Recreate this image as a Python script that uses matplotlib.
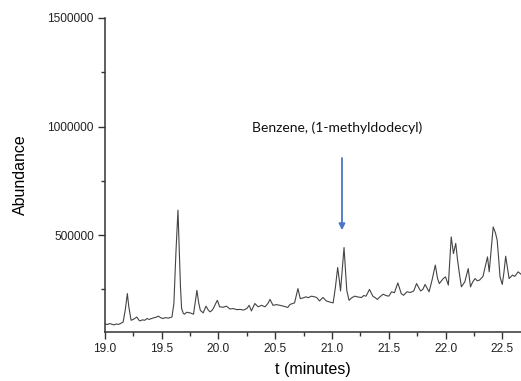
import matplotlib
matplotlib.use("Agg")
import matplotlib.pyplot as plt
from matplotlib.ticker import MultipleLocator

# GC-MS total ion chromatogram, retention time window 19.0 - 22.7 min
time_min = [
    19.00, 19.02, 19.04, 19.06, 19.08, 19.10, 19.12, 19.14, 19.16, 19.18,
    19.197, 19.21, 19.23, 19.25, 19.28, 19.30, 19.31, 19.33, 19.35, 19.37,
    19.39, 19.42, 19.45, 19.47, 19.49, 19.51, 19.53, 19.56, 19.59, 19.607,
    19.625, 19.643, 19.655, 19.665, 19.675, 19.69, 19.70, 19.72, 19.75, 19.78,
    19.795, 19.81, 19.825, 19.84, 19.865, 19.89, 19.91, 19.925, 19.94, 19.954,
    19.975, 19.99, 20.01, 20.04, 20.07, 20.10, 20.13, 20.16, 20.19, 20.22,
    20.25, 20.27, 20.29, 20.32, 20.35, 20.38, 20.41, 20.435, 20.454, 20.48,
    20.51, 20.54, 20.58, 20.61, 20.63, 20.67, 20.70, 20.72, 20.74, 20.77,
    20.79, 20.82, 20.845, 20.865, 20.89, 20.92, 20.95, 20.98, 21.01, 21.03,
    21.05, 21.065, 21.075, 21.09, 21.106, 21.12, 21.13, 21.15, 21.175, 21.20,
    21.23, 21.26, 21.28, 21.30, 21.33, 21.36, 21.38, 21.40, 21.42, 21.45,
    21.475, 21.50, 21.525, 21.55, 21.58, 21.61, 21.63, 21.66, 21.69, 21.72,
    21.745, 21.78, 21.80, 21.82, 21.855, 21.88, 21.91, 21.93, 21.945, 21.965,
    21.98, 22.00, 22.025, 22.04, 22.05, 22.07, 22.09, 22.105, 22.12, 22.14,
    22.17, 22.20, 22.22, 22.24, 22.26, 22.28, 22.30, 22.33, 22.37, 22.385,
    22.40, 22.42, 22.44, 22.455, 22.47, 22.48, 22.50, 22.515, 22.53, 22.545,
    22.56, 22.59, 22.61, 22.64, 22.665,
]
abundance = [
    92000, 88000, 93000, 90000, 87000, 91000, 89000, 94000, 100000, 160000,
    231000, 170000, 108000, 112000, 123000, 108000, 105000, 110000, 108000, 116000,
    112000, 118000, 122000, 127000, 120000, 116000, 120000, 118000, 123000, 185000,
    420000, 615000, 430000, 262000, 162000, 140000, 136000, 145000, 142000, 136000,
    190000, 246000, 190000, 154000, 142000, 173000, 155000, 147000, 152000, 162000,
    185000, 200000, 170000, 168000, 173000, 160000, 162000, 157000, 158000, 155000,
    162000, 177000, 151000, 185000, 170000, 177000, 170000, 185000, 204000, 177000,
    180000, 177000, 172000, 167000, 181000, 188000, 254000, 208000, 210000, 216000,
    212000, 219000, 216000, 213000, 197000, 213000, 197000, 192000, 188000, 260000,
    351000, 290000, 243000, 340000, 443000, 330000, 246000, 200000, 212000, 219000,
    215000, 213000, 222000, 219000, 250000, 219000, 212000, 204000, 215000, 228000,
    222000, 219000, 239000, 235000, 280000, 231000, 223000, 239000, 236000, 243000,
    277000, 243000, 250000, 273000, 239000, 290000, 362000, 300000, 277000, 290000,
    300000, 308000, 270000, 400000, 492000, 415000, 462000, 390000, 331000, 262000,
    285000, 346000, 262000, 285000, 300000, 290000, 293000, 310000, 400000, 331000,
    420000, 538000, 510000, 477000, 380000, 308000, 273000, 330000, 403000, 350000,
    300000, 316000, 310000, 331000, 320000,
]

# labelled compound
peak_label = "Benzene, (1-methyldodecyl)"
peak_time = 21.088

fig = plt.figure(figsize=(5.21, 3.81), dpi=100)
ax = fig.add_axes([0.2015, 0.1286, 0.7985, 0.8242])

ax.plot(time_min, abundance, color="#444444", linewidth=0.8)

ax.set_xlim(19.0, 22.665)
ax.set_ylim(54000, 1500000)

ax.xaxis.set_major_locator(MultipleLocator(0.5))
ax.xaxis.set_minor_locator(MultipleLocator(0.25))
ax.yaxis.set_major_locator(MultipleLocator(500000))
ax.yaxis.set_minor_locator(MultipleLocator(250000))
ax.xaxis.set_major_formatter(plt.FuncFormatter(lambda v, p: f"{v:.1f}"))
ax.yaxis.set_major_formatter(plt.FuncFormatter(lambda v, p: f"{v:.0f}"))

for side in ("top", "right"):
    ax.spines[side].set_visible(False)
for side in ("left", "bottom"):
    ax.spines[side].set_color("#333333")
    ax.spines[side].set_linewidth(1.1)

ax.tick_params(which="major", direction="out", length=5, width=1.0, color="#333333",
               labelsize=8.6, labelcolor="#222222", pad=3)
ax.tick_params(which="minor", direction="out", length=3, width=1.0, color="#333333")
for lbl in ax.get_xticklabels() + ax.get_yticklabels():
    lbl.set_family("Liberation Sans")

ax.set_xlabel("t (minutes)", fontsize=11.5, family="Liberation Sans", labelpad=5)
ax.set_ylabel("Abundance", fontsize=11.5, family="Liberation Sans", labelpad=14)

ax.annotate("", xy=(peak_time, 523000), xytext=(peak_time, 855000),
            arrowprops=dict(arrowstyle="-|>", color="#4a76c8", lw=1.3,
                            mutation_scale=9, shrinkA=0, shrinkB=0))
ax.text(21.044, 993000, peak_label, ha="center", va="center",
        fontsize=10, family="Lato", color="#111111")

fig.savefig("out.png", dpi=100)
